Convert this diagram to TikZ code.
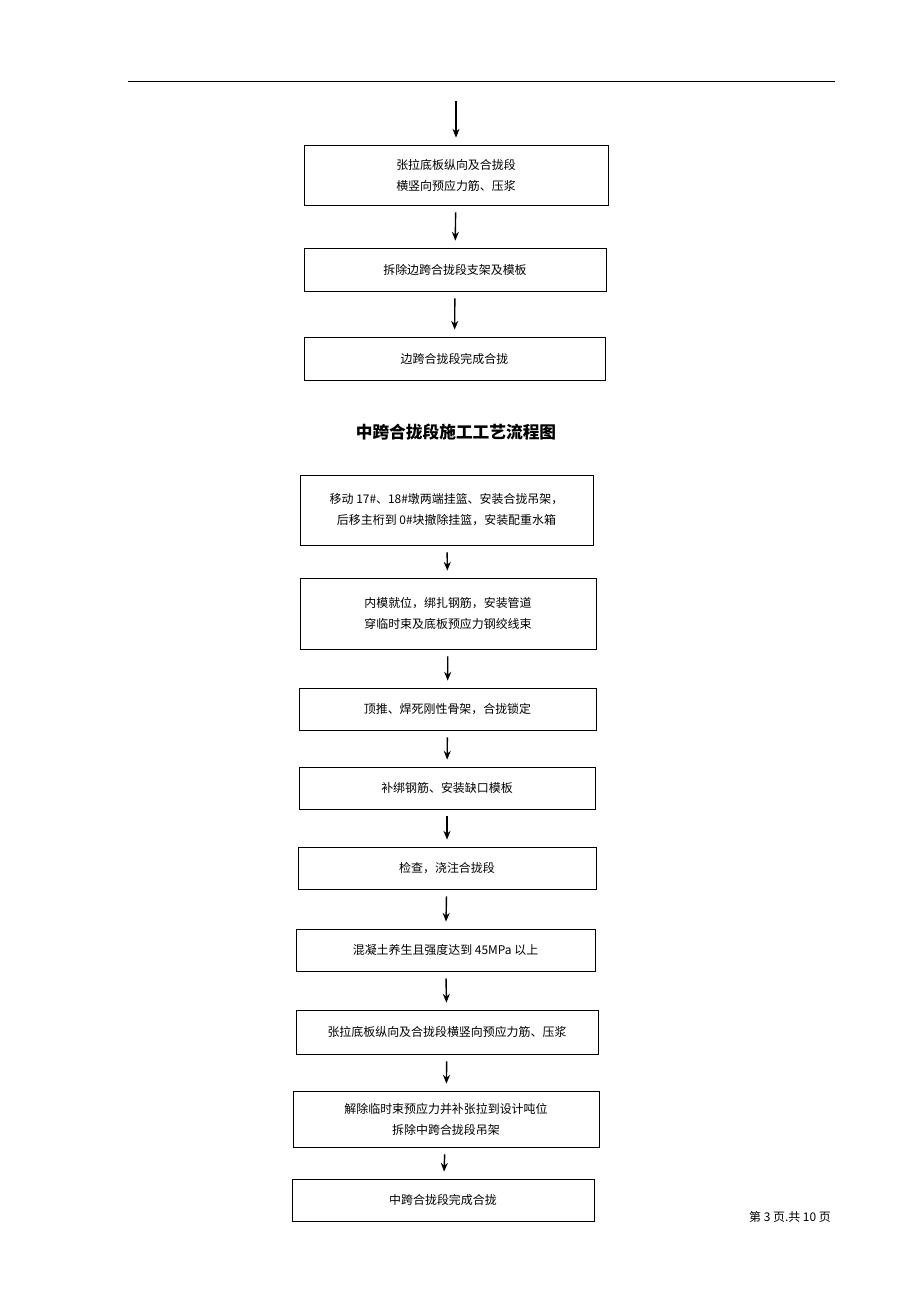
\documentclass[tikz,border=0pt]{standalone}
\usepackage{fontspec}
\setmainfont{Noto Sans CJK SC}
\usepackage{tikz}
\usetikzlibrary{arrows.meta}

\tikzset{
	flowbox/.style={draw=black,thin,align=center,font=\fontsize{6.8}{12}\selectfont,inner sep=0pt},
	flowarrow/.style={-{Stealth[length=5pt,width=4pt]},thick,shorten <=4pt,shorten >=4pt}
}

\begin{document}
\begin{tikzpicture}[x=0.02cm,y=-0.02cm]
	\useasboundingbox (0,0) rectangle (920,1302);
	\draw[thin] (128,81) -- (835,81);

	% upper part
	\coordinate (top) at (456,101);
	\node[flowbox,minimum width=304*0.02cm,minimum height=60*0.02cm] (b1) at (456,175) {张拉底板纵向及合拢段\\横竖向预应力筋、压浆};
	\node[flowbox,minimum width=302*0.02cm,minimum height=43*0.02cm] (b2) at (455,269.5) {拆除边跨合拢段支架及模板};
	\node[flowbox,minimum width=301*0.02cm,minimum height=43*0.02cm] (b3) at (454.5,358.5) {边跨合拢段完成合拢};

	\node[font=\fontsize{9.5}{12}\selectfont\bfseries] (title) at (456,432) {中跨合拢段施工工艺流程图};

	% middle span
	\node[flowbox,minimum width=293*0.02cm,minimum height=70*0.02cm] (m1) at (446.5,510) {移动 17\#、18\#墩两端挂篮、安装合拢吊架，\\后移主桁到 0\#块撤除挂篮，安装配重水箱};
	\node[flowbox,minimum width=296*0.02cm,minimum height=71*0.02cm] (m2) at (448,613.5) {内模就位，绑扎钢筋，安装管道\\穿临时束及底板预应力钢绞线束};
	\node[flowbox,minimum width=297*0.02cm,minimum height=42*0.02cm] (m3) at (447.5,709) {顶推、焊死刚性骨架，合拢锁定};
	\node[flowbox,minimum width=296*0.02cm,minimum height=42*0.02cm] (m4) at (447,788) {补绑钢筋、安装缺口模板};
	\node[flowbox,minimum width=298*0.02cm,minimum height=42*0.02cm] (m5) at (447,868) {检查，浇注合拢段};
	\node[flowbox,minimum width=299*0.02cm,minimum height=42*0.02cm] (m6) at (445.5,950) {混凝土养生且强度达到 45MPa 以上};
	\node[flowbox,minimum width=302*0.02cm,minimum height=44*0.02cm] (m7) at (447,1032) {张拉底板纵向及合拢段横竖向预应力筋、压浆};
	\node[flowbox,minimum width=306*0.02cm,minimum height=56*0.02cm] (m8) at (446,1119) {解除临时束预应力并补张拉到设计吨位\\拆除中跨合拢段吊架};
	\node[flowbox,minimum width=302*0.02cm,minimum height=42*0.02cm] (m9) at (443,1200) {中跨合拢段完成合拢};

	\node[font=\fontsize{6.8}{8}\selectfont] (page) at (790,1217) {第 3 页.共 10 页};

	\draw[flowarrow,shorten <=0pt] (top) -- (b1);
	\draw[flowarrow] (b1) -- (b2);
	\draw[flowarrow] (b2) -- (b3);
	\foreach \a/\b in {m1/m2,m2/m3,m3/m4,m4/m5,m5/m6,m6/m7,m7/m8,m8/m9}
		\draw[flowarrow] (\a) -- (\b);
\end{tikzpicture}
\end{document}
